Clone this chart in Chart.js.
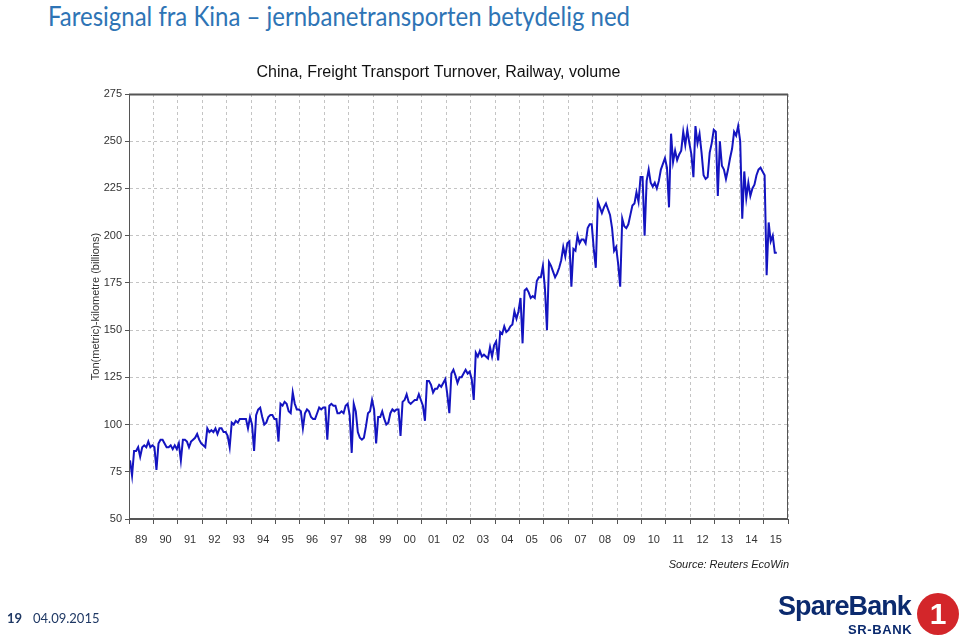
<!DOCTYPE html>
<html>
<head>
<meta charset="utf-8">
<title>Faresignal fra Kina</title>
<script src="https://cdn.jsdelivr.net/npm/chart.js@4.4.1/dist/chart.umd.min.js"></script>
<style>
    html, body { margin: 0; padding: 0; background: #fff; }
    body { width: 960px; height: 640px; position: relative; overflow: hidden; font-family: "Liberation Sans", Arial, sans-serif; }
    #freightChart { position: absolute; left: 0; top: 0; }
    .slide-title { position: absolute; left: 48px; top: -1px; font-family: Lato, "Open Sans", sans-serif; font-size: 27px; color: #2e74b5; white-space: nowrap; transform-origin: left top; }
    .source { position: absolute; right: 171px; top: 558px; font-size: 11px; font-style: italic; color: #222; }
    .page-no { position: absolute; left: 7px; top: 610px; font-family: Lato, sans-serif; font-size: 13px; font-weight: bold; color: #1f3864; }
    .page-date { position: absolute; left: 33px; top: 610px; font-family: Lato, sans-serif; font-size: 13px; color: #1f3864; }
    .logo-name { position: absolute; left: 778px; top: 591px; font-size: 27px; font-weight: bold; color: #0b2a6e; letter-spacing: -0.9px; }
    .logo-sub { position: absolute; left: 848px; top: 622px; font-size: 13px; font-weight: bold; color: #0b2a6e; letter-spacing: 0.6px; }
    .logo-ring { position: absolute; left: 917px; top: 593px; width: 42px; height: 42px; border-radius: 50%; background: #d3262a; color: #fff; font-size: 30px; font-weight: bold; line-height: 42px; text-align: center; }
</style>
</head>
<body>
<div class="slide-title" id="slideTitle">Faresignal fra Kina – jernbanetransporten betydelig ned</div>
<canvas id="freightChart" width="960" height="640"></canvas>
<div class="source">Source: Reuters EcoWin</div>
<div class="page-no">19</div>
<div class="page-date">04.09.2015</div>
<div class="logo-name">SpareBank</div>
<div class="logo-sub">SR-BANK</div>
<div class="logo-ring">1</div>
<script>
// monthly values, ton-km (billions)
const y1989 = [81, 73, 86, 86, 88, 83, 88, 89, 88, 91, 88, 89];
const y1990 = [88, 76, 90, 92, 92, 90, 88, 88, 89, 87, 89, 87];
const y1991 = [90, 81, 92, 92, 91, 88, 91, 92, 93, 95, 92, 90];
const y1992 = [89, 88, 98, 96, 97, 96, 98, 95, 98, 98, 96, 96];
const y1993 = [94, 88, 101, 100, 102, 101, 103, 103, 103, 103, 98, 104];
const y1994 = [100, 86, 105, 108, 109, 104, 100, 101, 104, 105, 105, 103];
const y1995 = [103, 91, 111, 110, 112, 111, 107, 106, 117, 111, 108, 108];
const y1996 = [107, 98, 106, 108, 107, 104, 103, 103, 106, 109, 108, 109];
const y1997 = [109, 92, 110, 111, 110, 110, 106, 106, 107, 106, 110, 111];
const y1998 = [105, 85, 111, 107, 96, 93, 92, 93, 99, 106, 107, 113];
const y1999 = [108, 90, 104, 104, 107, 103, 100, 101, 106, 108, 107, 108];
const y2000 = [108, 94, 112, 113, 116, 112, 111, 112, 113, 113, 116, 113];
const y2001 = [110, 102, 123, 123, 121, 117, 119, 119, 121, 120, 122, 124];
const y2002 = [116, 106, 127, 129, 126, 122, 125, 125, 127, 129, 127, 128];
const y2003 = [124, 113, 138, 136, 139, 136, 137, 136, 135, 141, 136, 142];
const y2004 = [144, 134, 149, 148, 152, 149, 150, 152, 153, 160, 156, 160];
const y2005 = [167, 143, 171, 172, 170, 167, 168, 167, 176, 178, 178, 184];
const y2006 = [172, 150, 186, 184, 181, 178, 180, 183, 187, 194, 189, 196];
const y2007 = [197, 173, 193, 192, 200, 196, 198, 198, 196, 204, 206, 206];
const y2008 = [193, 183, 218, 215, 212, 215, 217, 214, 211, 204, 192, 194];
const y2009 = [185, 173, 209, 205, 204, 206, 211, 216, 217, 223, 218, 231];
const y2010 = [231, 200, 229, 235, 228, 226, 228, 225, 229, 235, 238, 241];
const y2011 = [236, 215, 254, 239, 245, 240, 243, 245, 255, 248, 256, 249];
const y2012 = [243, 231, 258, 249, 254, 244, 232, 230, 231, 244, 249, 256];
const y2013 = [255, 221, 250, 237, 235, 230, 235, 241, 246, 255, 253, 258];
const y2014 = [250, 209, 234, 220, 228, 221, 225, 227, 232, 235, 236, 234];
const y2015 = [232, 179, 207, 197, 200, 191, 191];

const monthlyByYear = [y1989, y1990, y1991, y1992, y1993, y1994, y1995, y1996, y1997,
    y1998, y1999, y2000, y2001, y2002, y2003, y2004, y2005, y2006, y2007, y2008,
    y2009, y2010, y2011, y2012, y2013, y2014, y2015];

const startYear = 1989;
const endYear = 2016;
const yearLabels = ["89", "90", "91", "92", "93", "94", "95", "96", "97", "98", "99", "00", "01",
    "02", "03", "04", "05", "06", "07", "08", "09", "10", "11", "12", "13", "14", "15"];
const yTicks = [50, 75, 100, 125, 150, 175, 200, 225, 250, 275];

const chartTitle = "China, Freight Transport Turnover, Railway, volume";
const yTitle = "Ton(metric)-kilometre (billions)";

document.addEventListener("DOMContentLoaded", function () {
    // squeeze the slide title to the width it has in the deck
    const titleEl = document.getElementById("slideTitle");
    const w = titleEl.getBoundingClientRect().width;
    titleEl.style.transform = "scaleX(" + (582 / w) + ")";

    const points = [];
    monthlyByYear.forEach(function (values, k) {
        values.forEach(function (v, m) {
            points.push({ x: startYear + k + (m + 0.5) / 12, y: v });
        });
    });

    Chart.defaults.font.family = '"Liberation Sans", Arial, sans-serif';

    const isYearTick = function (ctx) {
        return ctx.tick && Number.isInteger(ctx.tick.value);
    };

    const framePlugin = {
        id: "frame",
        afterDraw: function (chart) {
            const a = chart.chartArea;
            const ctx = chart.ctx;
            ctx.save();
            ctx.strokeStyle = "#555";
            ctx.lineWidth = 1;
            ctx.strokeRect(a.left + 0.5, a.top + 0.5, a.right - a.left - 1, a.bottom - a.top - 1);
            ctx.lineWidth = 2;
            ctx.beginPath();
            ctx.moveTo(a.left, a.top + 0.5);
            ctx.lineTo(a.right, a.top + 0.5);
            ctx.stroke();
            ctx.restore();
        }
    };

    new Chart(document.getElementById("freightChart"), {
        type: "line",
        data: {
            datasets: [{
                data: points,
                borderColor: "#1414c0",
                borderWidth: 2,
                pointRadius: 0,
                tension: 0,
                fill: false
            }]
        },
        options: {
            responsive: false,
            animation: false,
            layout: { padding: { left: 89, right: 172, top: 0, bottom: 81 } },
            plugins: {
                legend: { display: false },
                tooltip: { enabled: false },
                title: {
                    display: true,
                    text: chartTitle,
                    color: "#111",
                    font: { size: 16, weight: "normal" },
                    padding: { top: 63, bottom: 11.8 }
                }
            },
            scales: {
                x: {
                    type: "linear",
                    min: startYear,
                    max: endYear,
                    afterBuildTicks: function (axis) {
                        const ticks = [];
                        for (let yr = startYear; yr <= endYear; yr++) {
                            ticks.push({ value: yr });
                            if (yr < endYear) ticks.push({ value: yr + 0.5 });
                        }
                        axis.ticks = ticks;
                    },
                    afterFit: function (axis) { axis.height = 40; },
                    ticks: {
                        autoSkip: false,
                        maxRotation: 0,
                        minRotation: 0,
                        padding: 9,
                        color: "#333",
                        font: { size: 11 },
                        callback: function (value) {
                            if (Number.isInteger(value)) return "";
                            return yearLabels[Math.floor(value) - startYear];
                        }
                    },
                    grid: {
                        color: function (ctx) { return isYearTick(ctx) ? "#c4c4c4" : "rgba(0,0,0,0)"; },
                        tickColor: function (ctx) { return isYearTick(ctx) ? "#555" : "rgba(0,0,0,0)"; },
                        tickLength: 5
                    },
                    border: { color: "#555", dash: [3, 3] }
                },
                y: {
                    min: 50,
                    max: 275,
                    afterBuildTicks: function (axis) {
                        axis.ticks = yTicks.map(function (v) { return { value: v }; });
                    },
                    afterFit: function (axis) { axis.width = 40; },
                    ticks: { padding: 3, color: "#333", font: { size: 11 } },
                    grid: { color: "#c4c4c4", tickColor: "#555", tickLength: 4 },
                    border: { color: "#555", dash: [3, 3] },
                    title: {
                        display: true,
                        text: yTitle,
                        color: "#333",
                        font: { size: 11 },
                        padding: 0
                    }
                }
            }
        },
        plugins: [framePlugin]
    });
});
</script>
</body>
</html>
